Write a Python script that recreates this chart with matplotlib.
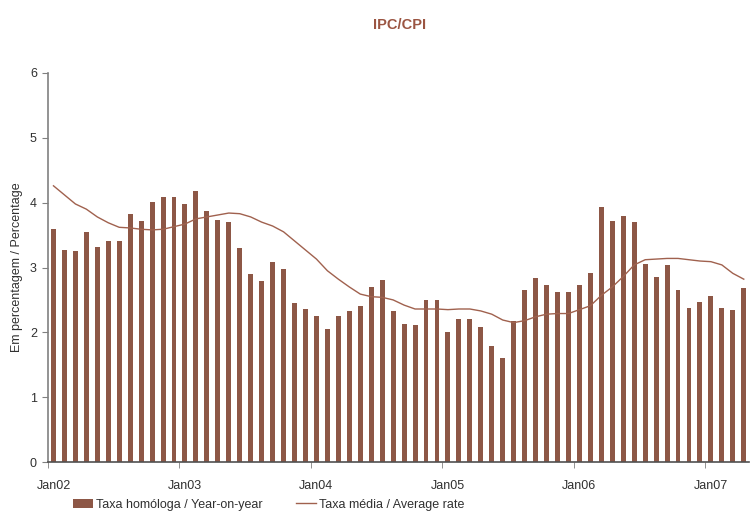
import matplotlib
matplotlib.use("Agg")
import matplotlib.pyplot as plt
from matplotlib.lines import Line2D
from matplotlib.patches import Patch

plt.rcParams['font.family'] = ['Liberation Sans', 'DejaVu Sans']

# monthly data Jan02 .. Apr07
yoy = [3.60, 3.27, 3.26, 3.55, 3.32, 3.41, 3.41, 3.83, 3.72, 4.01, 4.09, 4.09,
       3.98, 4.18, 3.87, 3.73, 3.70, 3.30, 2.90, 2.79, 3.09, 2.98, 2.45, 2.36,
       2.25, 2.05, 2.25, 2.33, 2.41, 2.70, 2.81, 2.33, 2.13, 2.11, 2.50, 2.50,
       2.01, 2.21, 2.21, 2.08, 1.79, 1.60, 2.18, 2.65, 2.84, 2.73, 2.62, 2.62,
       2.73, 2.92, 3.94, 3.72, 3.80, 3.70, 3.06, 2.86, 3.04, 2.65, 2.38, 2.47,
       2.56, 2.38, 2.35, 2.69]
avg = [4.26, 4.12, 3.98, 3.90, 3.78, 3.69, 3.62, 3.61, 3.59, 3.58, 3.59, 3.63,
       3.67, 3.75, 3.78, 3.81, 3.84, 3.83, 3.78, 3.70, 3.64, 3.55, 3.41, 3.27,
       3.13, 2.95, 2.82, 2.70, 2.59, 2.55, 2.54, 2.50, 2.42, 2.36, 2.36, 2.36,
       2.35, 2.36, 2.36, 2.33, 2.28, 2.19, 2.15, 2.18, 2.24, 2.28, 2.29, 2.29,
       2.35, 2.41, 2.57, 2.70, 2.86, 3.04, 3.12, 3.13, 3.14, 3.14, 3.12, 3.10,
       3.09, 3.04, 2.91, 2.82]
years = ["Jan02", "Jan03", "Jan04", "Jan05", "Jan06", "Jan07"]

bar_c = "#8D5746"
line_c = "#A0614E"
axis_c = "#808080"
txt_c = "#303030"

fig = plt.figure(figsize=(7.5, 5.13), dpi=100)
ax = fig.add_axes([0.064, 0.0994, 0.935, 0.7583])
x = list(range(len(yoy)))
ax.bar(x, yoy, width=0.45, color=bar_c, zorder=2)
ax.plot(x, avg, color=line_c, lw=1.0, zorder=3)

ax.set_xlim(-0.5, len(yoy) - 0.5)
ax.set_ylim(0, 6)
ax.set_yticks(range(7))

# ticks at year boundaries, labels under first month of year
ax.set_xticks([12 * i - 0.5 for i in range(len(years))], minor=True)
ax.set_xticks([12 * i for i in range(len(years))])
ax.set_xticklabels(years)
ax.tick_params(axis='x', which='major', length=0, pad=13, labelsize=9, labelcolor=txt_c)
ax.tick_params(axis='x', which='minor', length=4, color=axis_c, direction='out')
ax.tick_params(axis='y', length=4, color=axis_c, labelsize=9, pad=4, labelcolor=txt_c)

for s in ['top', 'right']:
    ax.spines[s].set_visible(False)
ax.spines['left'].set_color(axis_c)
ax.spines['bottom'].set_color("#505050")
ax.spines['left'].set_linewidth(1.2)
ax.spines['bottom'].set_linewidth(1.2)

ax.set_ylabel("Em percentagem / Percentage", fontsize=9, color=txt_c)
ax.yaxis.set_label_coords(-0.035, 0.5)

fig.suptitle("IPC/CPI", x=0.533, y=0.965, fontsize=10.5, fontweight='bold', color="#9B5542")

handles = [Patch(facecolor=bar_c, edgecolor='none'),
           Line2D([0], [0], color=line_c, lw=1.0)]
leg = fig.legend(handles, ["Taxa homóloga / Year-on-year", "Taxa média / Average rate"],
                 loc='center left', bbox_to_anchor=(0.082, 0.016), ncol=2, frameon=False,
                 fontsize=9, handlelength=1.6, handleheight=0.8, columnspacing=2.6,
                 handletextpad=0.3)
for t in leg.get_texts():
    t.set_color(txt_c)

fig.savefig("out.png", dpi=100)
